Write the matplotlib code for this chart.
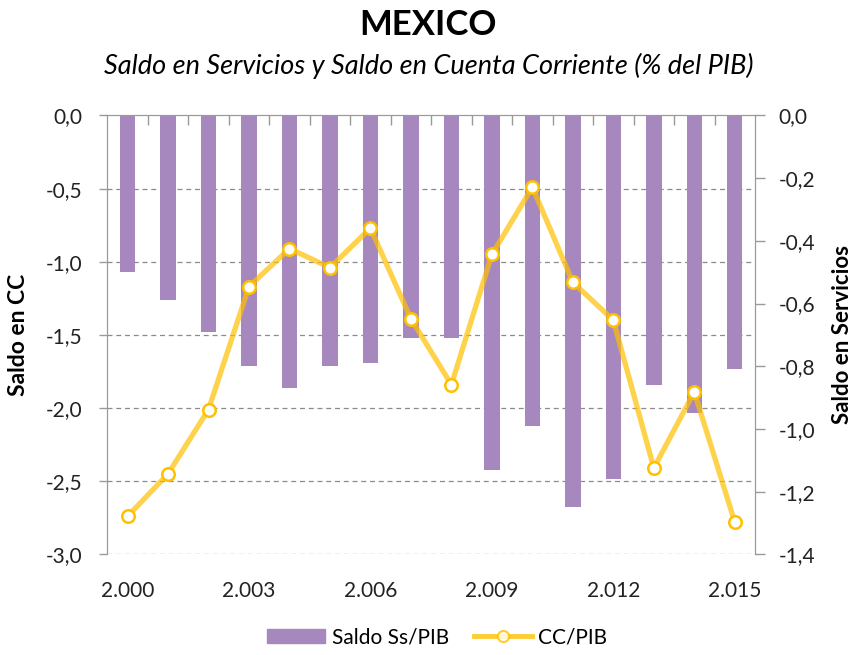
import matplotlib
matplotlib.use("Agg")
import matplotlib.pyplot as plt
from matplotlib.ticker import FixedLocator
from matplotlib.patches import Patch
from matplotlib.lines import Line2D

plt.rcParams['font.family'] = ['Lato', 'DejaVu Sans']

years = list(range(2000, 2016))
year_labels = ["2.000", "2.003", "2.006", "2.009", "2.012", "2.015"]
servicios = [-0.50, -0.59, -0.69, -0.80, -0.87, -0.80, -0.79, -0.71,
             -0.71, -1.13, -0.99, -1.25, -1.16, -0.86, -0.95, -0.81]
cc = [-2.74, -2.45, -2.01, -1.17, -0.91, -1.04, -0.77, -1.39,
      -1.84, -0.95, -0.49, -1.14, -1.40, -2.41, -1.89, -2.78]
left_ticks = [0.0, -0.5, -1.0, -1.5, -2.0, -2.5, -3.0]
right_ticks = [0.0, -0.2, -0.4, -0.6, -0.8, -1.0, -1.2, -1.4]

def comma(v, d=1):
    return f"{v:.{d}f}".replace(".", ",")

bar_color = "#A688BE"
line_color = "#FFC000"
grey = "#9A9A9A"
txt = "#222222"

fig = plt.figure(figsize=(8.57, 6.55), dpi=100)
ax = fig.add_axes([0.1252, 0.1537, 0.881 - 0.1252, 0.8237 - 0.1537])
ax2 = ax.twinx()

x = list(range(len(years)))

# bars on right axis (servicios)
ax2.bar(x, servicios, width=0.38, color=bar_color, zorder=2)
ax2.set_ylim(-1.4, 0)
ax2.set_yticks(right_ticks)
ax2.set_yticklabels([comma(v) for v in right_ticks], fontsize=15, color=txt)
ax2.tick_params(axis='y', direction='out', length=7, width=1, color=grey, pad=10)

# left axis
ax.set_ylim(-3.0, 0)
ax.set_yticks(left_ticks)
ax.set_yticklabels([comma(v) for v in left_ticks], fontsize=15, color=txt)
ax.tick_params(axis='y', direction='out', length=6, width=1, color=grey, pad=12)
for v in left_ticks[1:]:
    ax2.axhline(v / 3.0 * 1.4, color="#8C8C8C", lw=0.9, ls=(0, (4, 3)), zorder=1)

ax.set_xlim(-0.5, len(years) - 0.5)
ax.set_xticks([0, 3, 6, 9, 12, 15])
ax.set_xticklabels(year_labels, fontsize=15, color=txt)
ax.tick_params(axis='x', which='major', length=0, pad=19)
ax.xaxis.set_minor_locator(FixedLocator([i + 0.5 for i in range(len(years) - 1)]))
ax.tick_params(axis='x', which='minor', bottom=False, top=True, direction='in',
               length=7, width=1, color=grey)

for a in (ax, ax2):
    a.spines['bottom'].set_visible(False)
    a.spines['top'].set_color(grey)
    a.spines['left'].set_color(grey)
    a.spines['right'].set_color(grey)
    a.set_facecolor('none')

# line on left (CC) scale, drawn on top of the bars
ax3 = ax.twinx()
ax3.set_ylim(-3.0, 0)
ax3.axis('off')
ax3.plot(x, cc, color=line_color, alpha=0.7, lw=3.8, zorder=3, solid_joinstyle='round')
ax3.plot(x, cc, ls='none', marker='o', ms=9, mfc='white', mec=line_color,
         mew=1.8, zorder=4)

ax.set_ylabel("Saldo en CC", fontsize=16.5, fontweight='bold', labelpad=12)
ax2.set_ylabel("Saldo en Servicios", fontsize=16, fontweight='bold', labelpad=12)

fig.text(0.5, 0.962, "MEXICO", ha='center', va='center', fontsize=25, fontweight='bold')
fig.text(0.5, 0.899, "Saldo en Servicios y Saldo en Cuenta Corriente (% del PIB)",
         ha='center', va='center', fontsize=19.5, style='italic')

handles = [Patch(color=bar_color),
           Line2D([], [], color=line_color, alpha=0.8, lw=3.5, marker='o', ms=8,
                  mfc='white', mec=line_color, mew=1.5)]
fig.legend(handles, ["Saldo Ss/PIB", "CC/PIB"], loc='center', bbox_to_anchor=(0.51, 0.027),
           ncol=2, frameon=False, fontsize=15, handlelength=2.8, handletextpad=0.3,
           columnspacing=1.2)

fig.savefig("out.png", dpi=100)
